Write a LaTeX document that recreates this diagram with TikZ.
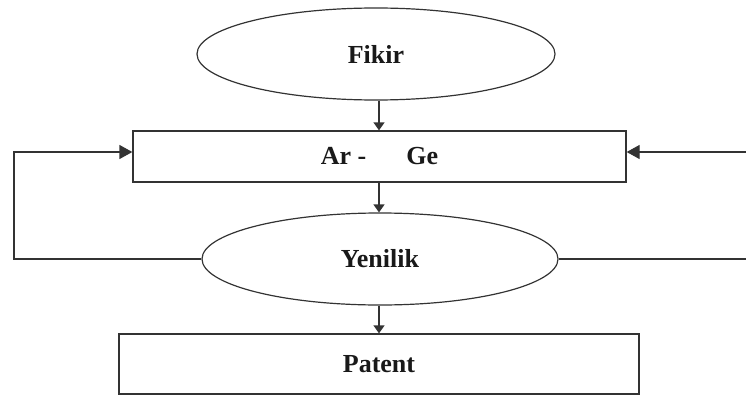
\documentclass[tikz,border=0pt]{standalone}
\usepackage{fontspec}
\setmainfont{Liberation Serif}
\usetikzlibrary{shapes.geometric,arrows.meta}
\begin{document}
\begin{tikzpicture}[x=1pt,y=-1pt,
  every node/.style={font=\fontsize{26}{30}\selectfont\bfseries, text=black!90},
  ovalbox/.style={draw=black!80, line width=1.2pt, ellipse, inner sep=0pt},
  rectbox/.style={draw=black!80, line width=1.3pt, rectangle, inner sep=0pt},
  conn/.style={draw=black!80, line width=1.3pt},
  bigtip/.style={-{Triangle[length=13pt,width=14pt]}},
  smalltip/.style={-{Triangle[length=8pt,width=11pt]}}]
\useasboundingbox (0,0) rectangle (746,396);
\node[ovalbox, minimum width=358pt, minimum height=92pt] (fik) at (376,54) {Fikir};
\node[rectbox, minimum width=493pt, minimum height=51pt] (arge) at (379.5,156.5) {Ar -\hspace{40pt}Ge};
\node[ovalbox, minimum width=356pt, minimum height=92pt] (yen) at (380,259) {Yenilik};
\node[rectbox, minimum width=520pt, minimum height=60pt] (pat) at (379,364) {Patent};
\coordinate (xa) at (379,0);
\coordinate (ltop) at (14,152);
\coordinate (rtop) at (747,152);
\coordinate (rbot) at (747,259);
\draw[conn, smalltip] (fik.south -| xa) -- (arge.north -| xa);
\draw[conn, smalltip] (arge.south -| xa) -- (yen.north -| xa);
\draw[conn, smalltip] (yen.south -| xa) -- (pat.north -| xa);
\draw[conn, bigtip] (yen.west) -| (ltop) -- (ltop -| arge.west);
\draw[conn] (yen.east) -- (rbot);
\draw[conn, bigtip] (rtop) -- (rtop -| arge.east);
\end{tikzpicture}
\end{document}
